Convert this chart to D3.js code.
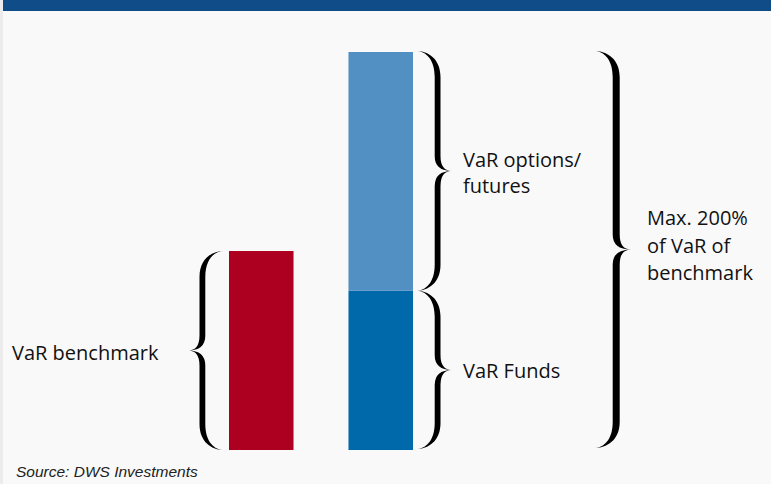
<!DOCTYPE html>
<html>
  <head>
    <title>VaR limit</title>
    <style>
body {
  margin: 0px;
  overflow: hidden;
  background: #f9f9f9;
}
.label {
  font-family: 'Open Sans', sans-serif;
  font-size: 20px;
  fill: #111;
}
.source {
  font-family: 'Liberation Sans', Arial, sans-serif;
  font-style: italic;
  font-size: 15.5px;
  fill: #222;
}
.brace {
  fill: #000;
}
    </style>
    <script src="https://d3js.org/d3.v7.min.js"></script>
  </head>
  <body>
    <svg width="771" height="484"></svg>
    <script>

// data (VaR in % of benchmark VaR)
const categories = ['benchmark', 'fund'];
const benchmarkValues = [100, 0];
const fundsValues = [0, 80];
const optionsValues = [0, 120];
const maxLabel = ['Max. 200%', 'of VaR of', 'benchmark'];

const svg = d3.select('svg');
const width = +svg.attr('width');
const height = +svg.attr('height');

// page frame
svg.append('rect').attr('width', width).attr('height', height).attr('fill', '#f9f9f9');
svg.append('rect').attr('width', 3).attr('height', height).attr('fill', '#ececec');
svg.append('rect').attr('x', 3).attr('width', width - 3).attr('height', 11).attr('fill', '#0f4c88');

const x = d3.scaleBand()
  .domain(categories)
  .range([229, 413])
  .paddingInner(0.46)
  .paddingOuter(0);

const y = d3.scaleLinear()
  .domain([0, 200])
  .range([450, 52]);

// stack the series
const rows = categories.map((c, i) => ({
  cat: c,
  benchmark: benchmarkValues[i],
  funds: fundsValues[i],
  options: optionsValues[i]
}));
const keys = ['benchmark', 'funds', 'options'];
const color = d3.scaleOrdinal()
  .domain(keys)
  .range(['#ad0021', '#0069aa', '#528fc2']);

const stacked = d3.stack().keys(keys)(rows);

svg.append('g').selectAll('g')
  .data(stacked)
  .join('g')
    .attr('fill', d => color(d.key))
  .selectAll('rect')
  .data(d => d.filter(p => p[1] > p[0]))
  .join('rect')
    .attr('x', d => x(d.data.cat))
    .attr('y', d => y(d[1]))
    .attr('width', x.bandwidth())
    .attr('height', d => y(d[0]) - y(d[1]));

// curly brace as a filled shape, x0 = ends, x1 = tip
function bracePath(x0, x1, y0, y1, t) {
  const ym = (y0 + y1) / 2;
  const re = Math.min(26, (y1 - y0) / 6);  // curl at the ends
  const rt = 15;                            // curl at the tip
  const mid = x0 + (x1 - x0) * 0.6;
  const a = mid - t / 2, b = mid + t / 2;
  return `M${x0},${y0} C${(x0 + a) / 2},${y0} ${a},${y0 + re * 0.3} ${a},${y0 + re} L${a},${ym - rt} Q${a},${ym} ${x1},${ym}`
    + ` Q${a},${ym} ${a},${ym + rt} L${a},${y1 - re} C${a},${y1 - re * 0.3} ${(x0 + a) / 2},${y1} ${x0},${y1}`
    + ` C${(x0 + b) / 2},${y1} ${b},${y1 - re * 0.3} ${b},${y1 - re} L${b},${ym + rt} Q${b},${ym} ${x1},${ym}`
    + ` Q${b},${ym} ${b},${ym - rt} L${b},${y0 + re} C${b},${y0 + re * 0.3} ${(x0 + b) / 2},${y0} ${x0},${y0} Z`;
}

const g = svg.append('g');
const bx = x('benchmark'), fx = x('fund') + x.bandwidth();

// benchmark brace (left)
g.append('path').attr('class', 'brace')
  .attr('d', bracePath(bx - 5, bx - 41, y(benchmarkValues[0]), y(0), 5.8));
// options brace
g.append('path').attr('class', 'brace')
  .attr('d', bracePath(fx + 3, fx + 39, y(fundsValues[1] + optionsValues[1]) - 1, y(fundsValues[1]), 5.8));
// funds brace
g.append('path').attr('class', 'brace')
  .attr('d', bracePath(fx + 3, fx + 39, y(fundsValues[1]), y(0) - 1, 5.8));
// overall brace
g.append('path').attr('class', 'brace')
  .attr('d', bracePath(594, 631, y(200) - 1, y(0) - 2, 7));

// labels
g.append('text').attr('class', 'label')
  .attr('x', 12).attr('y', 360)
  .text('VaR benchmark');

const opt = g.append('text').attr('class', 'label').attr('x', 463).attr('y', 167);
opt.append('tspan').attr('x', 463).text('VaR options/');
opt.append('tspan').attr('x', 463).attr('dy', 26).text('futures');

g.append('text').attr('class', 'label')
  .attr('x', 463).attr('y', 378)
  .text('VaR Funds');

g.append('text').attr('class', 'label')
  .attr('x', 647).attr('y', 225)
  .selectAll('tspan')
  .data(maxLabel)
  .join('tspan')
    .attr('x', 647)
    .attr('dy', (d, i) => i ? 27.5 : 0)
    .text(d => d);

svg.append('text').attr('class', 'source')
  .attr('x', 16).attr('y', 477)
  .text('Source: DWS Investments');

    </script>
  </body>
</html>
